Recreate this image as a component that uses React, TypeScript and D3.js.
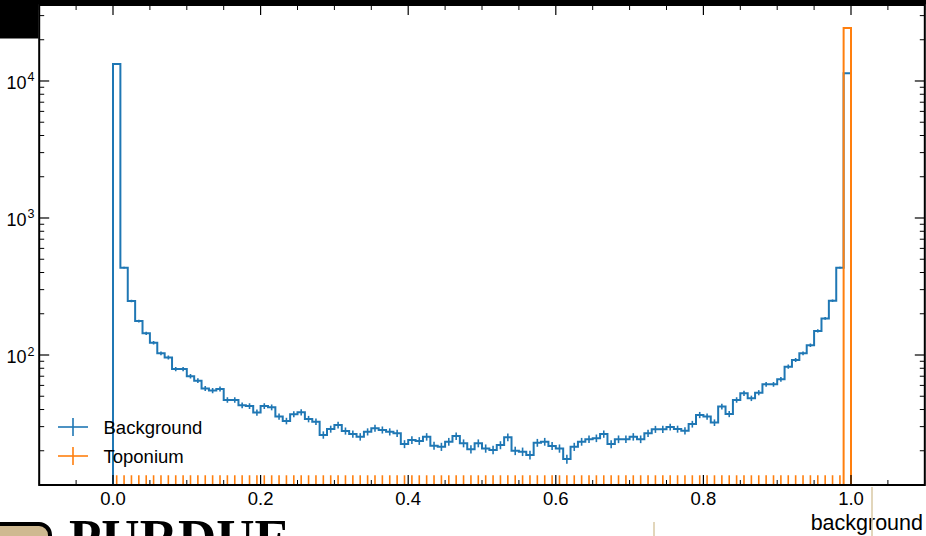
import React from "react";
import * as d3 from "d3";

// Bin contents over 100 equal bins on [0, 1]
const backgroundCounts = [
  13300, 434, 248, 177, 144, 123, 103, 96, 79, 79,
  70, 65, 57, 55, 56.5, 47, 47, 43, 42.4, 38,
  42.4, 41.5, 35.5, 33, 37, 38.2, 34.1, 32.6, 26.1, 28.8,
  30.8, 27.9, 26.5, 25.3, 27.5, 29.2, 28.4, 27.5, 26.8, 22.4,
  24.0, 23.6, 25.3, 21.8, 21.4, 23.3, 25.6, 22.7, 20.5, 22.7,
  20.8, 20.3, 22.0, 25.1, 20.0, 19.7, 18.6, 22.9, 23.3, 21.7,
  20.8, 17.4, 21.4, 23.3, 24.3, 24.7, 26.5, 22.4, 24.3, 24.3,
  25.3, 24.3, 26.8, 28.7, 28.7, 29.8, 28.8, 28.0, 31.3, 36.5,
  35.5, 32.1, 42.0, 37.1, 47, 52.5, 48.3, 53.1, 61.1, 61.1,
  66.5, 82.2, 92.0, 103, 118, 150, 185, 249, 434, 11400,
];

const toponiumCounts = [
  0, 0, 0, 0, 0, 0, 0, 0, 0, 0,
  0, 0, 0, 0, 0, 0, 0, 0, 0, 0,
  0, 0, 0, 0, 0, 0, 0, 0, 0, 0,
  0, 0, 0, 0, 0, 0, 0, 0, 0, 0,
  0, 0, 0, 0, 0, 0, 0, 0, 0, 0,
  0, 0, 0, 0, 0, 0, 0, 0, 0, 0,
  0, 0, 0, 0, 0, 0, 0, 0, 0, 0,
  0, 0, 0, 0, 0, 0, 0, 0, 0, 0,
  0, 0, 0, 0, 0, 0, 0, 0, 0, 0,
  0, 0, 0, 0, 0, 0, 0, 0, 0, 24400,
];

// Per-event weights (used for the weighted Poisson uncertainties)
const BACKGROUND_WEIGHT = 0.1;
const TOPONIUM_WEIGHT = 7.2;
const GARWOOD_ZERO_UP = 1.84;

const seriesNames = ["Background", "Toponium"];
const seriesColors = ["#1f77b4", "#ff7f0e"];
const xTickValues = [0, 0.2, 0.4, 0.6, 0.8, 1.0];
const yTickExponents = [2, 3, 4];
const xLabel = "background";

const W = 926;
const H = 536;
const FONT = "'Liberation Sans', Arial, Helvetica, sans-serif";

const plot = { left: 39.2, right: 924.8, top: 5, bottom: 485 };

const x = d3.scaleLinear().domain([-0.1, 1.1]).range([plot.left, plot.right]);
const y = d3.scaleLog().domain([11.25, 35860]).range([plot.bottom, plot.top]);

const nBins = backgroundCounts.length;
const edges = d3.range(nBins + 1).map((i) => i / nBins);

function yPix(v: number) {
  return v > 0 ? y(v) : plot.bottom + 20;
}

function stepPath(counts: number[]) {
  const pts: [number, number][] = [[x(edges[0]), plot.bottom + 20]];
  counts.forEach((c, i) => {
    pts.push([x(edges[i]), yPix(c)]);
    pts.push([x(edges[i + 1]), yPix(c)]);
  });
  pts.push([x(edges[nBins]), plot.bottom + 20]);
  return d3.line()(pts) as string;
}

function errBars(counts: number[], weight: number) {
  return counts.map((c, i) => {
    const cx = x((edges[i] + edges[i + 1]) / 2);
    const lo = c > 0 ? c - Math.sqrt(weight * c) : 0;
    const hi = c > 0 ? c + Math.sqrt(weight * c) : weight * GARWOOD_ZERO_UP;
    return { cx, y1: yPix(lo), y2: yPix(hi) };
  });
}

const xMinor = d3.range(-0.1, 1.1001, 0.05).map((v) => Math.round(v * 100) / 100);
const yMinor: number[] = [];
for (let e = 1; e <= 4; e++) {
  for (let m = 2; m <= 9; m++) {
    const v = m * Math.pow(10, e);
    if (v > y.domain()[0] && v < y.domain()[1]) yMinor.push(v);
  }
}

export default function App() {
  const series = [backgroundCounts, toponiumCounts];
  const weights = [BACKGROUND_WEIGHT, TOPONIUM_WEIGHT];
  return (
    <svg
      width={W}
      height={H}
      style={{ position: "absolute", left: 0, top: 0, background: "#fff" }}
      fontFamily={FONT}
    >
      <defs>
        <clipPath id="plotClip">
          <rect x={plot.left} y={plot.top} width={plot.right - plot.left} height={plot.bottom - plot.top} />
        </clipPath>
      </defs>
      <rect width={W} height={H} fill="#fff" />

      {/* histograms */}
      <g clipPath="url(#plotClip)">
        {series.map((counts, s) => (
          <g key={s}>
            <path d={stepPath(counts)} fill="none" stroke={seriesColors[s]} strokeWidth={2} strokeLinejoin="miter" />
            {errBars(counts, weights[s]).map((b, i) => (
              <line key={i} x1={b.cx} x2={b.cx} y1={b.y1} y2={b.y2} stroke={seriesColors[s]} strokeWidth={1.6} />
            ))}
          </g>
        ))}
      </g>

      {/* x ticks (bottom and top, inward) */}
      {xMinor.map((v) => {
        const major = xTickValues.some((t) => Math.abs(t - v) < 1e-6);
        const len = major ? 10 : 5;
        return (
          <g key={"xm" + v} stroke="#000" strokeWidth={major ? 1.2 : 1}>
            <line x1={x(v)} x2={x(v)} y1={plot.bottom} y2={plot.bottom - len} />
            <line x1={x(v)} x2={x(v)} y1={plot.top} y2={plot.top + len} />
          </g>
        );
      })}
      {xTickValues.map((v) => (
        <text key={"xl" + v} x={x(v)} y={505} textAnchor="middle" fontSize={18.5} fill="#000">
          {v.toFixed(1)}
        </text>
      ))}

      {/* y ticks (left and right, inward) */}
      {yMinor.map((v) => (
        <g key={"ym" + v} stroke="#000" strokeWidth={1}>
          <line x1={plot.left} x2={plot.left + 5} y1={y(v)} y2={y(v)} />
          <line x1={plot.right} x2={plot.right - 5} y1={y(v)} y2={y(v)} />
        </g>
      ))}
      {yTickExponents.map((e) => {
        const yy = y(Math.pow(10, e));
        return (
          <g key={"yM" + e}>
            <line x1={plot.left} x2={plot.left + 10} y1={yy} y2={yy} stroke="#000" strokeWidth={1.2} />
            <line x1={plot.right} x2={plot.right - 10} y1={yy} y2={yy} stroke="#000" strokeWidth={1.2} />
            <text x={26.5} y={yy + 8} textAnchor="end" fontSize={18} fill="#000">10</text>
            <text x={27.5} y={yy + 0.5} textAnchor="start" fontSize={12.5} fill="#000">{e}</text>
          </g>
        );
      })}

      {/* frame */}
      <rect
        x={plot.left}
        y={plot.top}
        width={plot.right - plot.left}
        height={plot.bottom - plot.top}
        fill="none"
        stroke="#000"
        strokeWidth={2}
      />

      {/* legend */}
      {seriesNames.map((name, i) => {
        const cy = 427 + i * 29;
        return (
          <g key={name}>
            <line x1={58} x2={88} y1={cy} y2={cy} stroke={seriesColors[i]} strokeWidth={1.6} />
            <line x1={73} x2={73} y1={cy - 9} y2={cy + 9} stroke={seriesColors[i]} strokeWidth={1.6} />
            <text x={103.5} y={cy + 7} fontSize={18.5} fill="#000">{name}</text>
          </g>
        );
      })}

      {/* axis label */}
      <text x={923} y={530} textAnchor="end" fontSize={21.5} fill="#000">{xLabel}</text>

      {/* surrounding slide elements */}
      <rect x={0} y={0} width={W} height={4.5} fill="#000" />
      <rect x={0} y={0} width={38.5} height={38.5} fill="#000" />
      <line x1={872} x2={872} y1={487} y2={H} stroke="#d9c8a4" strokeWidth={1.5} />
      <line x1={654} x2={654} y1={522} y2={H} stroke="#d9c8a4" strokeWidth={1.5} />
      <rect x={-12} y={524} width={62} height={40} rx={11} fill="#cfb991" stroke="#000" strokeWidth={4} />
      <text x={69} y={556} fontFamily="'Liberation Serif', 'DejaVu Serif', serif" fontWeight="bold" fontSize={53} fill="#000">
        PURDUE
      </text>
    </svg>
  );
}
